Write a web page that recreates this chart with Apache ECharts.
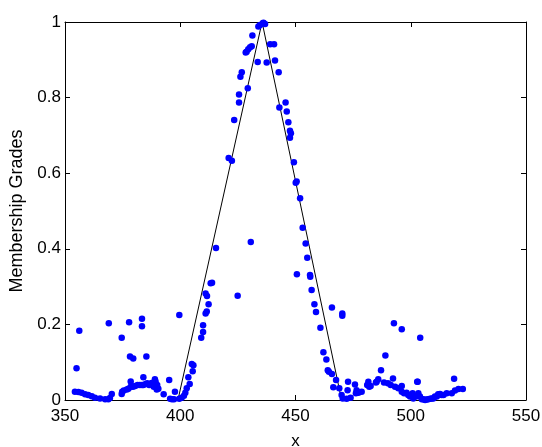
<!DOCTYPE html>
<html><head><meta charset="utf-8">
<script src="https://cdn.jsdelivr.net/npm/echarts@6/dist/echarts.min.js"></script>
<style>html,body{margin:0;padding:0;background:#fff}#c{width:542px;height:447px}</style>
</head><body><div id="c"></div>
<script>
var xTicks = [350, 400, 450, 500, 550];
var yTicks = [0, 0.2, 0.4, 0.6, 0.8, 1];
var lineX = [399, 435.5, 470];
var lineY = [0, 1, 0];
var dotX = [
354.3,355.8,357.2,358.7,360.1,361.6,363.0,365.2,367.4,368.8,355.0,356.2,369.0,370.3,369.5,
374.6,377.8,383.4,383.4,378.2,379.6,385.3,
374.6,374.8,375.5,376.8,377.5,378.5,378.5,379.5,380.4,381.5,382.5,383.4,384.0,384.0,385.0,385.7,386.5,387.6,388.5,389.0,389.3,389.8,390.0,390.5,392.8,395.2,
395.6,396.4,397.3,397.7,399.6,399.6,400.6,401.6,402.2,402.8,403.5,404.1,405.0,405.7,405.4,
409.1,409.9,409.9,411.0,411.5,412.3,411.0,411.6,413.2,413.8,415.5,421.0,422.4,423.4,424.9,425.5,425.5,426.1,426.7,428.4,428.8,429.3,429.5,430.3,431.0,431.3,430.6,433.6,433.9,434.6,435.8,436.1,436.8,437.5,439.0,440.7,441.1,442.7,
443.0,445.7,446.2,446.9,447.6,448.0,447.6,449.3,450.1,450.5,452.0,453.1,454.4,455.1,450.6,456.3,456.4,457.0,458.2,458.9,465.8,470.3,470.3,460.8,462.1,463.4,464.0,464.5,465.8,467.6,466.4,469.0,470.0,470.5,472.2,473.9,472.6,472.8,
475.8,476.5,477.3,476.2,478.7,481.6,482.0,481.1,482.6,484.9,485.9,485.2,487.1,489.0,492.7,496.1,504.1,488.4,490.1,492.3,491.3,493.2,494.6,496.1,496.1,497.1,498.2,498.9,499.7,500.8,501.1,502.3,503.0,503.3,504.0,504.8,506.2,507.6,509.1,510.5,511.9,513.4,515.6,517.8,518.8,519.2,520.7,522.6,502.8,505.5,506.9,508.4,509.8,511.3,512.7,514.2
];
var dotY = [
0.022,0.021,0.019,0.015,0.013,0.010,0.006,0.004,0.002,0.002,0.084,0.183,0.203,0.016,0.005,
0.165,0.206,0.215,0.195,0.115,0.110,0.115,
0.016,0.022,0.025,0.028,0.030,0.035,0.049,0.035,0.037,0.040,0.040,0.040,0.060,0.040,0.042,0.044,0.040,0.045,0.035,0.055,0.048,0.028,0.040,0.030,0.015,0.053,
0.003,0.002,0.002,0.022,0.225,0.003,0.006,0.011,0.019,0.031,0.060,0.042,0.095,0.092,0.076,
0.165,0.180,0.198,0.229,0.234,0.253,0.282,0.275,0.309,0.310,0.402,0.640,0.633,0.741,0.276,0.808,0.787,0.855,0.867,0.919,0.921,0.825,0.928,0.933,0.936,0.964,0.418,0.894,0.988,0.992,0.997,0.998,0.995,0.893,0.941,0.941,0.898,0.867,
0.774,0.787,0.763,0.735,0.712,0.706,0.694,0.629,0.575,0.578,0.534,0.456,0.414,0.376,0.333,0.331,0.326,0.291,0.253,0.233,0.245,0.229,0.223,0.191,0.126,0.107,0.079,0.075,0.069,0.053,0.034,0.031,0.013,0.004,0.003,0.006,0.026,0.048,
0.041,0.026,0.019,0.018,0.022,0.048,0.035,0.040,0.037,0.046,0.055,0.048,0.079,0.118,0.203,0.187,0.165,0.046,0.044,0.057,0.040,0.035,0.031,0.037,0.022,0.018,0.019,0.013,0.009,0.018,0.004,0.009,0.048,0.018,0.009,0.002,0.000,0.002,0.004,0.009,0.015,0.013,0.018,0.018,0.056,0.025,0.029,0.029,0.048,0.002,0.001,0.003,0.004,0.009,0.016,0.013
];
var dots = dotX.map(function(x,i){return [x, dotY[i]];});
var tri = lineX.map(function(x,i){return [x, lineY[i]];});
var font = 'Liberation Sans, Arial, Helvetica, sans-serif';
var chart = echarts.init(document.getElementById('c'), null, {renderer:'canvas'});
function xAx(pos, show){
  return {type:'value', position:pos, min:350, max:550, interval:50,
    axisLine:{show:true, onZero:false, lineStyle:{color:'#000', width:1}},
    axisTick:{show:true, inside:true, length:5, lineStyle:{color:'#000'}},
    splitLine:{show:false},
    axisLabel:{show:show, color:'#000', fontSize:17, fontFamily:font, margin:8,
      formatter:function(v){return xTicks.indexOf(v)>=0? String(v):'';}},
    name: show?'x':'', nameLocation:'middle', nameGap:33,
    nameTextStyle:{color:'#000', fontSize:17, fontFamily:font}};
}
function yAx(pos, show){
  return {type:'value', position:pos, min:0, max:1, interval:0.2,
    axisLine:{show:true, onZero:false, lineStyle:{color:'#000', width:1}},
    axisTick:{show:true, inside:true, length:5, lineStyle:{color:'#000'}},
    splitLine:{show:false},
    axisLabel:{show:show, color:'#000', fontSize:17, fontFamily:font, margin:4,
      formatter:function(v){var r=Math.round(v*10)/10; return yTicks.indexOf(r)>=0? String(r):'';}},
    name: show?'Membership Grades':'', nameLocation:'middle', nameGap:39,
    nameTextStyle:{color:'#000', fontSize:18, fontFamily:font}};
}
chart.setOption({
  animation:false,
  backgroundColor:'#fff',
  grid:{left:65, right:16, top:22, bottom:47, containLabel:false, outerBoundsMode:'none'},
  xAxis:[xAx('bottom', true), xAx('top', false)],
  yAxis:[yAx('left', true), yAx('right', false)],
  series:[
    {type:'line', data:tri, xAxisIndex:0, yAxisIndex:0, showSymbol:false, symbol:'none',
     lineStyle:{color:'#000', width:1}, z:2},
    {type:'scatter', data:dots, xAxisIndex:0, yAxisIndex:0, symbol:'circle', symbolSize:6.5,
     itemStyle:{color:'#0000ff', opacity:1}, z:3}
  ]
});
</script></body></html>
